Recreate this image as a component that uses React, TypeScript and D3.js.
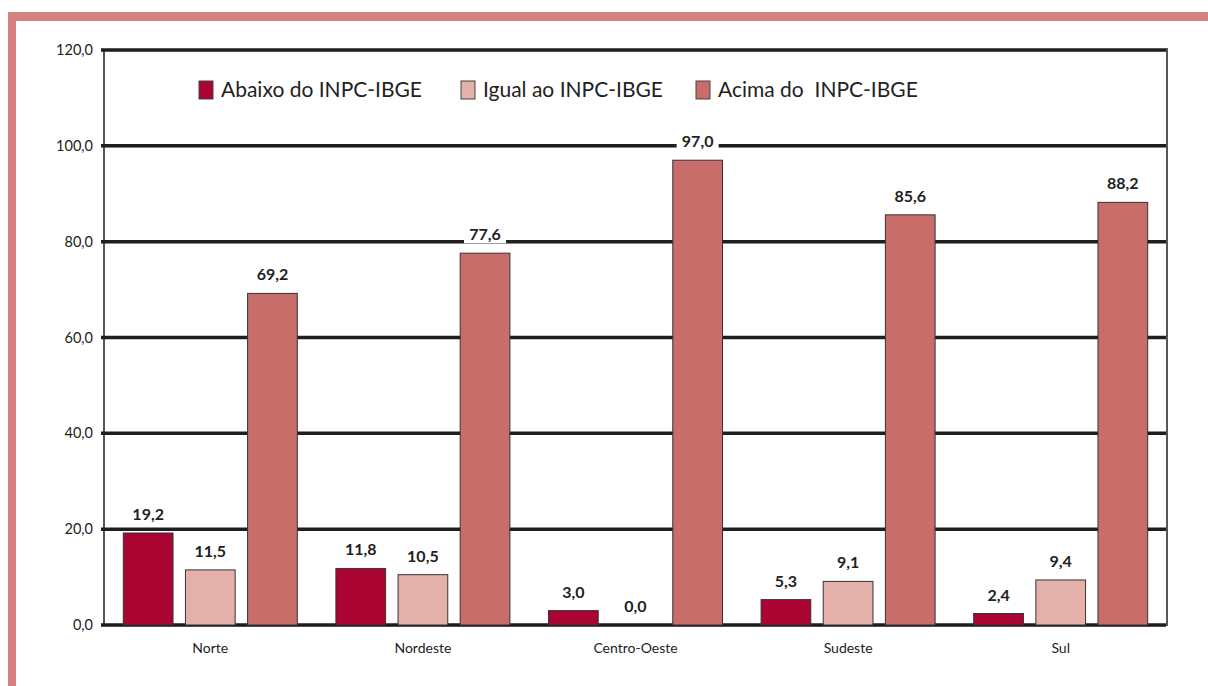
import React from "react";
import * as d3 from "d3";

const categories = ["Norte", "Nordeste", "Centro-Oeste", "Sudeste", "Sul"];
const seriesNames = ["Abaixo do INPC-IBGE", "Igual ao INPC-IBGE", "Acima do  INPC-IBGE"];
const abaixo = [19.2, 11.8, 3.0, 5.3, 2.4];
const igual = [11.5, 10.5, 0.0, 9.1, 9.4];
const acima = [69.2, 77.6, 97.0, 85.6, 88.2];
const yTicks = [0, 20, 40, 60, 80, 100, 120];
const colors = ["#a90432", "#e4b0aa", "#c96d6a"];

const W = 1208;
const H = 686;
const plot = { left: 104, right: 1167, top: 50, bottom: 625 };
const font = "Lato, 'Open Sans', sans-serif";

export default function App() {
  const series = [abaixo, igual, acima];
  const x0 = d3.scaleBand().domain(categories).range([plot.left, plot.right]).paddingInner(0).paddingOuter(0);
  const groupInner = 174;
  const x1 = d3
    .scaleBand()
    .domain(seriesNames)
    .range([0, groupInner])
    .paddingInner(0.2)
    .paddingOuter(0);
  const y = d3.scaleLinear().domain([0, 120]).range([plot.bottom, plot.top]);
  const fmt = (v: number) => v.toFixed(1).replace(".", ",");

  return (
    <svg
      width={W}
      height={H}
      style={{ position: "absolute", left: 0, top: 0, background: "#fff" }}
      fontFamily={font}
    >
      {/* frame */}
      <rect x={8} y={12} width={W - 8} height={9} fill="#d4817f" />
      <rect x={8} y={12} width={8} height={H - 12} fill="#d4817f" />

      {/* grid */}
      {yTicks.map((t) => (
        <g key={t}>
          <line x1={plot.left - 3} x2={plot.right - 1} y1={y(t) + 1} y2={y(t) + 1} stroke="#bbb" strokeWidth={1} />
          <line x1={plot.left - 3} x2={plot.right - 1} y1={y(t)} y2={y(t)} stroke="#1e1e1e" strokeWidth={3.5} />
          <text x={93} y={y(t)} dy="0.35em" textAnchor="end" fontSize={14.5} fill="#222">
            {fmt(t)}
          </text>
        </g>
      ))}
      <line x1={plot.left} x2={plot.left} y1={plot.top} y2={plot.bottom} stroke="#1e1e1e" strokeWidth={1.5} />
      <line x1={plot.right} x2={plot.right} y1={plot.top - 2} y2={plot.bottom + 1} stroke="#1e1e1e" strokeWidth={1.5} />

      {/* bars */}
      {categories.map((c, ci) => {
        const gx = (x0(c) as number) + (x0.bandwidth() - groupInner) / 2;
        return (
          <g key={c}>
            {series.map((s, si) => {
              const v = s[ci];
              const bx = gx + (x1(seriesNames[si]) as number);
              const bw = x1.bandwidth();
              const top = y(v);
              const ly = top - 13;
              return (
                <g key={si}>
                  {v > 0 && (
                    <rect
                      x={bx}
                      y={top}
                      width={bw}
                      height={plot.bottom - top}
                      fill={colors[si]}
                      stroke="#333"
                      strokeWidth={1}
                    />
                  )}
                  <rect x={bx + bw / 2 - 21} y={ly - 15} width={42} height={18} fill="#fff" />
                  <text
                    x={bx + bw / 2}
                    y={ly}
                    textAnchor="middle"
                    fontSize={16}
                    fontWeight="bold"
                    fill="#222"
                  >
                    {fmt(v)}
                  </text>
                </g>
              );
            })}
            <text
              x={(x0(c) as number) + x0.bandwidth() / 2}
              y={653}
              textAnchor="middle"
              fontSize={14}
              fill="#222"
            >
              {c}
            </text>
          </g>
        );
      })}

      {/* legend */}
      {seriesNames.map((n, i) => {
        const lx = [199, 461, 696][i];
        return (
          <g key={n}>
            <rect x={lx} y={81} width={14} height={18} fill={colors[i]} stroke="#444" strokeWidth={1} />
            <text x={lx + 22} y={97} fontSize={21} fill="#222" style={{ whiteSpace: "pre" }}>
              {n}
            </text>
          </g>
        );
      })}
    </svg>
  );
}
